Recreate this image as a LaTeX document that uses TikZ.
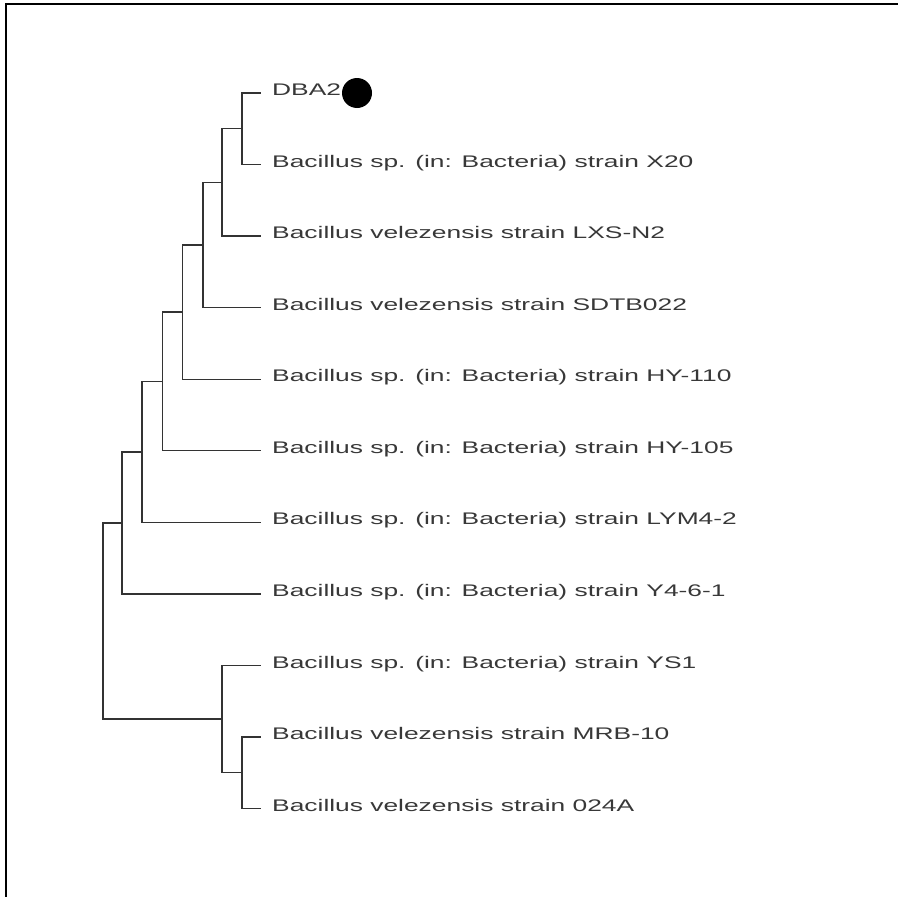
\documentclass[tikz,border=0pt]{standalone}
\usepackage{fontspec}
\setmainfont{Liberation Sans}
\newfontfamily\leaffont[FakeStretch=1.57]{Liberation Sans}
\tikzset{
  leaf/.style={anchor=mid west, inner sep=0pt, font=\leaffont\fontsize{16.8}{20}\selectfont, text=black!78},
  branch/.style={draw=black!80, line width=1.3pt},
  frameline/.style={draw=black, line width=2pt}
}
\begin{document}
\begin{tikzpicture}[x=1pt,y=-1pt]
\useasboundingbox (0,0) rectangle (898,897);
% frame
\draw[frameline] (6,897) -- (6,4) -- (898,4);
% leaf tips
\foreach \i/\y in {0/93,1/164.6,2/236.1,3/307.7,4/379.2,5/450.8,6/522.3,7/593.9,8/665.4,9/737,10/808.5}{
  \coordinate (t\i) at (261,\y);
}
% labels
\node[leaf] (l0) at (272,93) {DBA2};
\node[leaf] (l1) at (272,164.6) {Bacillus sp. (in: Bacteria) strain X20};
\node[leaf] (l2) at (272,236.1) {Bacillus velezensis strain LXS-N2};
\node[leaf] (l3) at (272,307.7) {Bacillus velezensis strain SDTB022};
\node[leaf] (l4) at (272,379.2) {Bacillus sp. (in: Bacteria) strain HY-110};
\node[leaf] (l5) at (272,450.8) {Bacillus sp. (in: Bacteria) strain HY-105};
\node[leaf] (l6) at (272,522.3) {Bacillus sp. (in: Bacteria) strain LYM4-2};
\node[leaf] (l7) at (272,593.9) {Bacillus sp. (in: Bacteria) strain Y4-6-1};
\node[leaf] (l8) at (272,665.4) {Bacillus sp. (in: Bacteria) strain YS1};
\node[leaf] (l9) at (272,737) {Bacillus velezensis strain MRB-10};
\node[leaf] (l10) at (272,808.5) {Bacillus velezensis strain 024A};
\node[circle, fill=black, inner sep=0pt, minimum size=30pt] (dot) at (357,93) {};
% internal nodes
\coordinate (n1) at (242,128.8);
\coordinate (n2) at (222,182.5);
\coordinate (n3) at (203,245.1);
\coordinate (n4) at (182.5,312.1);
\coordinate (n5) at (162.5,381.5);
\coordinate (n6) at (142,451.9);
\coordinate (n7) at (122,522.9);
\coordinate (c2) at (242,772.8);
\coordinate (c1) at (222,719.1);
\coordinate (root) at (103,621);
% branches
\draw[branch] (n1) |- (t0);
\draw[branch] (n1) |- (t1);
\draw[branch] (n2) |- (n1);
\draw[branch] (n2) |- (t2);
\draw[branch] (n3) |- (n2);
\draw[branch] (n3) |- (t3);
\draw[branch] (n4) |- (n3);
\draw[branch] (n4) |- (t4);
\draw[branch] (n5) |- (n4);
\draw[branch] (n5) |- (t5);
\draw[branch] (n6) |- (n5);
\draw[branch] (n6) |- (t6);
\draw[branch] (n7) |- (n6);
\draw[branch] (n7) |- (t7);
\draw[branch] (c2) |- (t9);
\draw[branch] (c2) |- (t10);
\draw[branch] (c1) |- (t8);
\draw[branch] (c1) |- (c2);
\draw[branch] (root) |- (n7);
\draw[branch] (root) |- (c1);
\end{tikzpicture}
\end{document}
